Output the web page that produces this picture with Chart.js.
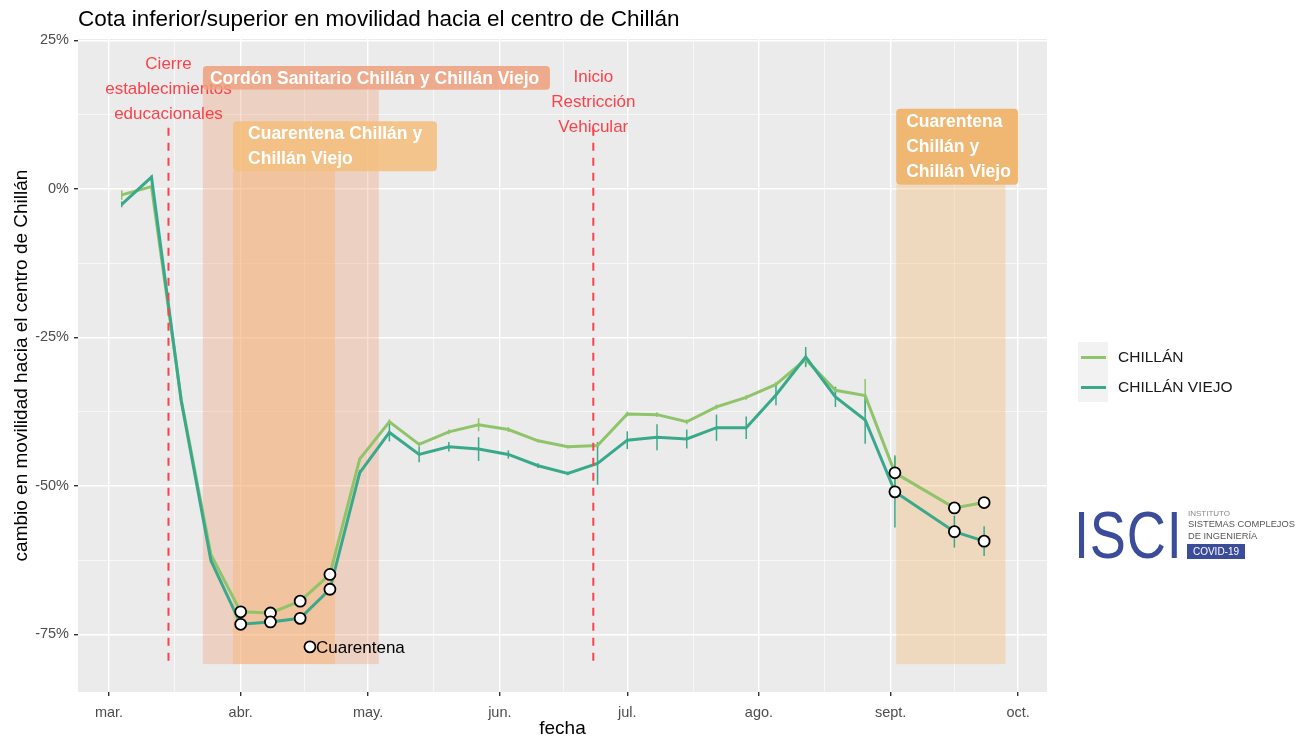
<!DOCTYPE html>
<html lang="es">
<head>
<meta charset="utf-8">
<title>Movilidad hacia el centro de Chillán</title>
<script src="https://cdn.jsdelivr.net/npm/chart.js@4.4.1/dist/chart.umd.min.js"></script>
<style>
  body { margin: 0; background: #fff; font-family: "Liberation Sans", Arial, sans-serif; }
  #contenedor { position: relative; width: 1300px; height: 740px; }
  #grafico { position: absolute; left: 0; top: 0; }
  .titulo { position: absolute; left: 78px; top: 6px; font-size: 22.5px; color: #000; white-space: nowrap; }
  .leyenda { position: absolute; left: 1078px; top: 342px; }
  .fila { display: flex; align-items: center; height: 30px; }
  .clave { width: 30px; height: 30px; background: #f2f2f2; display: flex; align-items: center; justify-content: center; }
  .clave i { display: block; width: 25px; height: 3px; }
  .fila span.txt { margin-left: 10px; font-size: 15.5px; color: #1a1a1a; }
  .isci { position: absolute; left: 1074px; top: 497px; font-size: 66px; line-height: 76px; color: #3a4c9a;
          transform: scaleX(0.82); transform-origin: left top; letter-spacing: 1px; }
  .peq { position: absolute; left: 1188px; white-space: nowrap; }
  .covid { position: absolute; left: 1187px; top: 544px; width: 58px; height: 15px; background: #3a4c9a;
           color: #fff; font-size: 10px; line-height: 15px; text-align: center; }
</style>
</head>
<body>
<div id="contenedor">
  <canvas id="grafico" width="1300" height="740"></canvas>
  <div class="titulo">Cota inferior/superior en movilidad hacia el centro de Chillán</div>
  <div class="leyenda">
    <div class="fila"><span class="clave"><i style="background:#8fc46b"></i></span><span class="txt">CHILLÁN</span></div>
    <div class="fila"><span class="clave"><i style="background:#3aa98b"></i></span><span class="txt">CHILLÁN VIEJO</span></div>
  </div>
  <div class="isci">ISCI</div>
  <div class="peq" style="top:509px;font-size:8px;color:#888">INSTITUTO</div>
  <div class="peq" style="top:519px;font-size:9.3px;color:#555">SISTEMAS COMPLEJOS</div>
  <div class="peq" style="top:531px;font-size:9.3px;color:#555">DE INGENIERÍA</div>
  <div class="covid">COVID-19</div>
</div>
<script>
// días desde el 1 de marzo de 2020
const fechas = [3, 10, 17, 24, 31, 38, 45, 52, 59, 66, 73, 80, 87, 94, 101, 108, 115, 122, 129, 136, 143, 150, 157, 164, 171, 178, 185, 199, 206];

// cambio en movilidad (%)
const chillan = [-1.0, 0.4, -35.5, -61.6, -71.2, -71.4, -69.4, -64.9, -45.5, -39.2, -43.0, -40.9, -39.7, -40.5, -42.4, -43.4, -43.2, -37.9, -38.0, -39.2, -36.7, -35.1, -32.9, -28.7, -33.9, -34.8, -47.8, -53.7, -52.8];
const chillanViejo = [-2.6, 2.0, -35.7, -62.6, -73.3, -72.9, -72.3, -67.4, -47.8, -41.0, -44.7, -43.4, -43.8, -44.7, -46.6, -47.9, -46.2, -42.3, -41.8, -42.1, -40.2, -40.2, -34.7, -28.3, -35.0, -38.9, -51.0, -57.7, -59.3];

// semiancho de las barras de error (%)
const errChillan = [0.8, 0.3, 0.3, 0.3, 0.3, 0.3, 0.3, 0.3, 0.4, 0.4, 0.4, 0.4, 1.1, 0.4, 0.3, 0.3, 0.4, 0.4, 0.4, 0.4, 0.4, 0.4, 0.4, 1.0, 0.5, 2.8, 3.0, 0.4, 0.4];
const errViejo = [0.5, 0.3, 0.3, 0.3, 0.3, 0.3, 0.3, 0.3, 0.5, 1.5, 1.3, 0.8, 2.0, 0.7, 0.4, 0.3, 3.6, 1.5, 2.2, 1.6, 2.2, 1.9, 1.7, 1.7, 1.7, 4.0, 6.0, 2.7, 2.5];

// semanas en cuarentena (se marcan con círculo)
const diasCuarentena = [31, 38, 45, 52, 185, 199, 206];

// ejes
const mesesTicks = [0, 31, 61, 92, 122, 153, 184, 214];
const mesesLabels = ['mar.', 'abr.', 'may.', 'jun.', 'jul.', 'ago.', 'sept.', 'oct.'];
const xMenores = [15.5, 46, 76.5, 107, 137.5, 168.5, 199];
const yTicks = [25, 0, -25, -50, -75];
const yMenores = [12.5, -12.5, -37.5, -62.5];

// anotaciones
const eventos = [
  { dia: 14, lineas: ['Cierre', 'establecimientos', 'educacionales'], textoY: 21.0, desde: 10.3, hasta: -79.5 },
  { dia: 114, lineas: ['Inicio', 'Restricción', 'Vehicular'], textoY: 18.8, desde: 10.3, hasta: -79.5 }
];
const periodos = [
  { desde: 22.1, hasta: 63.5, arriba: 16.7, abajo: -80, color: 'rgba(238,148,102,0.30)' },
  { desde: 29.2, hasta: 53.2, arriba: 3.0, abajo: -80, color: 'rgba(251,176,102,0.40)' },
  { desde: 185.3, hasta: 211.0, arriba: 0.7, abajo: -80, color: 'rgba(246,184,106,0.35)' }
];
const etiquetas = [
  { x0: 22.1, x1: 103.8, y0: 20.7, y1: 16.7, lineas: ['Cordón Sanitario Chillán y Chillán Viejo'], fondo: 'rgba(239,159,123,0.85)', margen: 7 },
  { x0: 29.2, x1: 77.2, y0: 11.4, y1: 3.0, lineas: ['Cuarentena Chillán y', 'Chillán Viejo'], fondo: 'rgba(244,190,123,0.85)', margen: 15 },
  { x0: 185.3, x1: 214.0, y0: 13.5, y1: 0.7, lineas: ['Cuarentena', 'Chillán y', 'Chillán Viejo'], fondo: 'rgba(241,174,94,0.85)', margen: 10 }
];
const marcaCuarentena = { dia: 47.3, valor: -77.1, texto: 'Cuarentena' };

const verde = '#8fc46b';
const teal = '#3aa98b';
const fuente = '"Liberation Sans", Arial, sans-serif';
Chart.defaults.font.family = fuente;

function puntos(serie) {
  return fechas.map((d, i) => ({ x: d, y: serie[i] }));
}
function puntosCuarentena(serie) {
  return fechas.map((d, i) => ({ x: d, y: serie[i] })).filter(p => diasCuarentena.includes(p.x));
}

// fondo gris del panel
const fondoPanel = {
  id: 'fondoPanel',
  beforeDraw(chart) {
    const { ctx, chartArea: a } = chart;
    ctx.save();
    ctx.fillStyle = '#ebebeb';
    ctx.fillRect(a.left, a.top, a.right - a.left, a.bottom - a.top);
    ctx.restore();
  }
};

// rectangulos de periodos, barras de error y textos
const periodosPlugin = {
  id: 'periodos',
  beforeDatasetsDraw(chart) {
    const { ctx, scales: { x, y } } = chart;
    ctx.save();
    periodos.forEach(p => {
      const x0 = x.getPixelForValue(p.desde), x1 = x.getPixelForValue(p.hasta);
      const y0 = y.getPixelForValue(p.arriba), y1 = y.getPixelForValue(p.abajo);
      ctx.fillStyle = p.color;
      ctx.fillRect(x0, y0, x1 - x0, y1 - y0);
    });
    // barras de error
    [[chillan, errChillan, verde], [chillanViejo, errViejo, teal]].forEach(([serie, err, color]) => {
      ctx.strokeStyle = color;
      ctx.lineWidth = 1.5;
      fechas.forEach((d, i) => {
        const px = x.getPixelForValue(d);
        ctx.beginPath();
        ctx.moveTo(px, y.getPixelForValue(serie[i] + err[i]));
        ctx.lineTo(px, y.getPixelForValue(serie[i] - err[i]));
        ctx.stroke();
      });
    });
    ctx.restore();
  },
  afterDatasetsDraw(chart) {
    const { ctx, scales: { x, y } } = chart;
    ctx.save();
    // lineas de eventos
    eventos.forEach(ev => {
      const px = x.getPixelForValue(ev.dia);
      ctx.strokeStyle = '#f8434b';
      ctx.lineWidth = 2;
      ctx.setLineDash([8, 7]);
      ctx.beginPath();
      ctx.moveTo(px, y.getPixelForValue(ev.desde));
      ctx.lineTo(px, y.getPixelForValue(ev.hasta));
      ctx.stroke();
      ctx.setLineDash([]);
      ctx.fillStyle = '#f8434b';
      ctx.font = '17px ' + fuente;
      ctx.textAlign = 'center';
      ctx.textBaseline = 'middle';
      const y0 = y.getPixelForValue(ev.textoY);
      ev.lineas.forEach((t, i) => ctx.fillText(t, px, y0 + i * 25));
    });
    // etiquetas de periodos
    etiquetas.forEach(e => {
      const x0 = x.getPixelForValue(e.x0), x1 = x.getPixelForValue(e.x1);
      const y0 = y.getPixelForValue(e.y0), y1 = y.getPixelForValue(e.y1);
      ctx.fillStyle = e.fondo;
      ctx.beginPath();
      ctx.roundRect(x0, y0, x1 - x0, y1 - y0, 4);
      ctx.fill();
      ctx.fillStyle = '#fff';
      ctx.font = 'bold 17.5px ' + fuente;
      ctx.textAlign = 'left';
      ctx.textBaseline = 'middle';
      e.lineas.forEach((t, i) => ctx.fillText(t, x0 + e.margen, y0 + 13 + i * 25));
    });
    // marca "Cuarentena"
    const mx = x.getPixelForValue(marcaCuarentena.dia), my = y.getPixelForValue(marcaCuarentena.valor);
    ctx.beginPath();
    ctx.arc(mx, my, 5.5, 0, Math.PI * 2);
    ctx.fillStyle = '#fff';
    ctx.fill();
    ctx.lineWidth = 1.8;
    ctx.strokeStyle = '#000';
    ctx.stroke();
    ctx.fillStyle = '#000';
    ctx.font = '17px ' + fuente;
    ctx.textAlign = 'left';
    ctx.textBaseline = 'middle';
    ctx.fillText(marcaCuarentena.texto, mx + 6, my + 1);
    ctx.restore();
  }
};

new Chart(document.getElementById('grafico'), {
  type: 'line',
  data: {
    datasets: [
      {
        label: 'círculos', type: 'scatter', order: 0,
        data: puntosCuarentena(chillan).concat(puntosCuarentena(chillanViejo)),
        pointRadius: 5.5, pointBackgroundColor: '#fff', pointBorderColor: '#000', pointBorderWidth: 1.8, showLine: false
      },
      { label: 'CHILLÁN VIEJO', data: puntos(chillanViejo), borderColor: teal, borderWidth: 3, pointRadius: 0, tension: 0, order: 1 },
      { label: 'CHILLÁN', data: puntos(chillan), borderColor: verde, borderWidth: 3, pointRadius: 0, tension: 0, order: 2 }
    ]
  },
  options: {
    responsive: false,
    animation: false,
    layout: { padding: { left: 0, top: 39, right: 253, bottom: 0 } },
    plugins: { legend: { display: false }, tooltip: { enabled: false } },
    scales: {
      x: {
        type: 'linear', min: -7.3, max: 220.8,
        afterBuildTicks: s => { s.ticks = mesesTicks.concat(xMenores).map(v => ({ value: v })); },
        afterFit: s => { s.height = 48; },
        ticks: {
          autoSkip: false, maxRotation: 0, color: '#4d4d4d', font: { size: 14.5 }, padding: 8,
          callback: v => { const i = mesesTicks.indexOf(v); return i >= 0 ? mesesLabels[i] : ''; }
        },
        grid: {
          color: '#fff', tickLength: 4,
          lineWidth: c => mesesTicks.includes(c.tick.value) ? 1.4 : 0.6,
          tickColor: c => mesesTicks.includes(c.tick.value) ? '#333' : 'rgba(0,0,0,0)'
        },
        border: { display: false },
        title: { display: true, text: 'fecha', color: '#000', font: { size: 19 }, padding: { top: 0, bottom: 0 } }
      },
      y: {
        type: 'linear', min: -84.7, max: 25.25,
        afterBuildTicks: s => { s.ticks = yTicks.concat(yMenores).map(v => ({ value: v })); },
        afterFit: s => { s.width = 78; },
        ticks: {
          color: '#4d4d4d', font: { size: 14.5 }, padding: 5,
          callback: v => yTicks.includes(v) ? v + '%' : ''
        },
        grid: {
          color: '#fff', tickLength: 4,
          lineWidth: c => yTicks.includes(c.tick.value) ? 1.4 : 0.6,
          tickColor: c => yTicks.includes(c.tick.value) ? '#333' : 'rgba(0,0,0,0)'
        },
        border: { display: false },
        title: { display: true, text: 'cambio en movilidad hacia el centro de Chillán', color: '#000', font: { size: 19 }, padding: { top: 10, bottom: 0 } }
      }
    }
  },
  plugins: [fondoPanel, periodosPlugin]
});
</script>
</body>
</html>
